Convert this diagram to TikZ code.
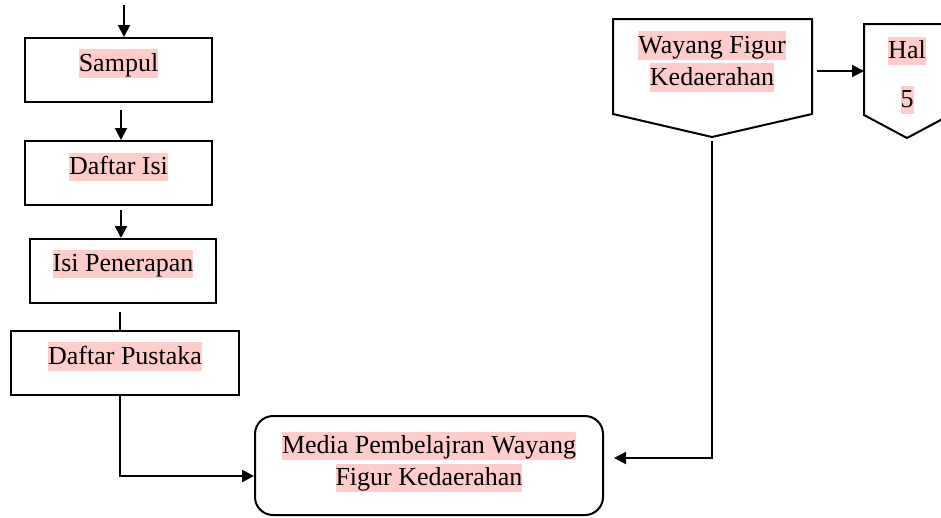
\documentclass[tikz,border=0pt]{standalone}
\usepackage{fontspec}
\setmainfont{Liberation Serif}
\usetikzlibrary{arrows.meta}
\definecolor{hlpink}{RGB}{255,204,204}
\setlength{\fboxsep}{0pt}
\newcommand{\hl}[1]{\colorbox{hlpink}{\rule[-0.25em]{0pt}{1.1em}#1}}
\begin{document}
\begin{tikzpicture}[x=1pt, y=-1pt, line width=2pt,
	box/.style={draw, rectangle, inner sep=0pt},
	txt/.style={inner sep=0pt, align=center, font=\fontsize{26}{32}\selectfont},
	arr/.style={-{Triangle[length=12pt,width=12pt]}}]
	\useasboundingbox (0,0) rectangle (941,517);
	% left column
	\node[box, minimum width=187, minimum height=64] (sampul) at (118.5,70) {};
	\node[box, minimum width=187, minimum height=64] (daftarisi) at (118.5,173) {};
	\node[box, minimum width=186, minimum height=64] (isi) at (123,271) {};
	\node[box, minimum width=228, minimum height=64] (pustaka) at (125,363) {};
	\node[txt] (sampulT) at (118.5,63.5) {\hl{Sampul}};
	\node[txt] (daftarisiT) at (118.5,167) {\hl{Daftar Isi}};
	\node[txt] (isiT) at (123,264) {\hl{Isi Penerapan}};
	\node[txt] (pustakaT) at (125,356.5) {\hl{Daftar Pustaka}};
	% media
	\node[box, rounded corners=18pt, minimum width=348, minimum height=99] (media) at (429,465.5) {};
	\node[txt] (mediaT) at (429,462) {\hl{Media Pembelajran Wayang}\\\hl{Figur Kedaerahan}};
	% off page shapes
	\draw (613,19) -- (812,19) -- (812,114) -- (712,137) -- (613,114) -- cycle;
	\draw (864,24) -- (950,24) -- (950,115) -- (907,138) -- (864,115) -- cycle;
	\node[txt] (wayangT) at (712,61.5) {\hl{Wayang Figur}\\\hl{Kedaerahan}};
	\node[txt] (halT) at (907,51) {\hl{Hal}};
	\node[txt] (limaT) at (907,100) {\hl{5}};
	\coordinate (start) at (124,5);
	\coordinate (wayangE) at (817,71);
	\coordinate (halW) at (864,71);
	\coordinate (wayangS) at (712,141);
	% connectors
	\draw[arr] (start) -- (start |- sampul.north);
	\draw[arr] ([xshift=2.5pt,yshift=-7pt]sampul.south) -- ([xshift=2.5pt]daftarisi.north);
	\draw[arr] ([xshift=2.5pt,yshift=-4pt]daftarisi.south) -- ([xshift=2.5pt]daftarisi.south |- isi.north);
	\draw ([xshift=-3pt,yshift=-8pt]isi.south) -- ([xshift=-3pt]isi.south |- pustaka.north);
	\draw[arr] ([xshift=-5pt]pustaka.south) |- ([yshift=-10.5pt]media.west);
	\draw[arr] (wayangS) |- ([xshift=10pt,yshift=7.5pt]media.east);
	\draw[arr] (wayangE) -- (halW);
\end{tikzpicture}
\end{document}
